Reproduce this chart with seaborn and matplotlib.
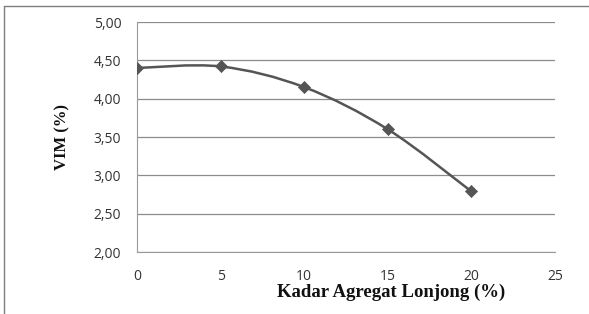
import matplotlib
matplotlib.use("Agg")
import matplotlib.pyplot as plt
import seaborn as sns
import numpy as np
import pandas as pd
from matplotlib.path import Path
from matplotlib.patches import PathPatch
from matplotlib.lines import Line2D

# data
kadar = [0, 5, 10, 15, 20]
vim = [4.40, 4.42, 4.15, 3.60, 2.79]
x_ticks = [0, 5, 10, 15, 20, 25]
y_ticks = [2.0, 2.5, 3.0, 3.5, 4.0, 4.5, 5.0]

df = pd.DataFrame({"kadar": kadar, "vim": vim})

sns.set_style("white")
plt.rcParams["font.family"] = ["Open Sans", "DejaVu Sans"]

fig = plt.figure(figsize=(5.89, 3.14), dpi=100)
ax = fig.add_axes([137 / 589, 1 - 252 / 314, (555 - 137) / 589, (252 - 22) / 314])

line_col = "#555555"

# smoothed line like Excel (Bezier through the points)
pts = np.column_stack([df["kadar"], df["vim"]]).astype(float)
verts = [tuple(pts[0])]
codes = [Path.MOVETO]
n = len(pts)
for i in range(n - 1):
    p_prev = pts[i - 1] if i > 0 else pts[i]
    p_next2 = pts[i + 2] if i + 2 < n else pts[i + 1]
    c1 = pts[i] + (pts[i + 1] - p_prev) / 6
    c2 = pts[i + 1] - (p_next2 - pts[i]) / 6
    verts += [tuple(c1), tuple(c2), tuple(pts[i + 1])]
    codes += [Path.CURVE4] * 3
ax.add_patch(PathPatch(Path(verts, codes), facecolor="none",
                       edgecolor=line_col, lw=1.8, zorder=3))

sns.scatterplot(data=df, x="kadar", y="vim", ax=ax, marker="D", s=38,
                color=line_col, edgecolor=line_col, linewidth=0.5, zorder=4)

ax.set_xlim(0, 25)
ax.set_ylim(2, 5)
ax.set_xticks(x_ticks)
ax.set_yticks(y_ticks)
ax.set_yticklabels([f"{v:.2f}".replace(".", ",") for v in y_ticks])
ax.set_xticklabels([str(v) for v in x_ticks])
ax.tick_params(axis="both", labelsize=10, colors="#999999", labelcolor="#333333",
               width=0.8, direction="out")
ax.tick_params(axis="x", pad=9, length=3.5)
ax.tick_params(axis="y", pad=7, length=4.3)
ax.grid(axis="y", color="#8c8c8c", lw=0.9)
ax.set_axisbelow(True)
for s in ["top", "right"]:
    ax.spines[s].set_visible(False)
ax.spines["left"].set_color("#999999")
ax.spines["bottom"].set_color("#999999")
ax.set_xlabel("")
ax.set_ylabel("")

fig.text(391 / 589, 1 - 292 / 314, "Kadar Agregat Lonjong (%)", ha="center",
         va="center", family="Liberation Serif", weight="bold", fontsize=13.5,
         color="#111111")
fig.text(62 / 589, 1 - 137 / 314, "VIM (%)", ha="center", va="center",
         rotation=90, family="Liberation Serif", weight="bold", fontsize=12,
         color="#111111")

# outer frame of the chart area
fig.add_artist(Line2D([4 / 589, 4 / 589], [0, 1 - 6 / 314], transform=fig.transFigure,
                      color="#7f7f7f", lw=1.0))
fig.add_artist(Line2D([4 / 589, 1], [1 - 6 / 314, 1 - 6 / 314], transform=fig.transFigure,
                      color="#7f7f7f", lw=1.0))

fig.savefig("out.png", dpi=100)
